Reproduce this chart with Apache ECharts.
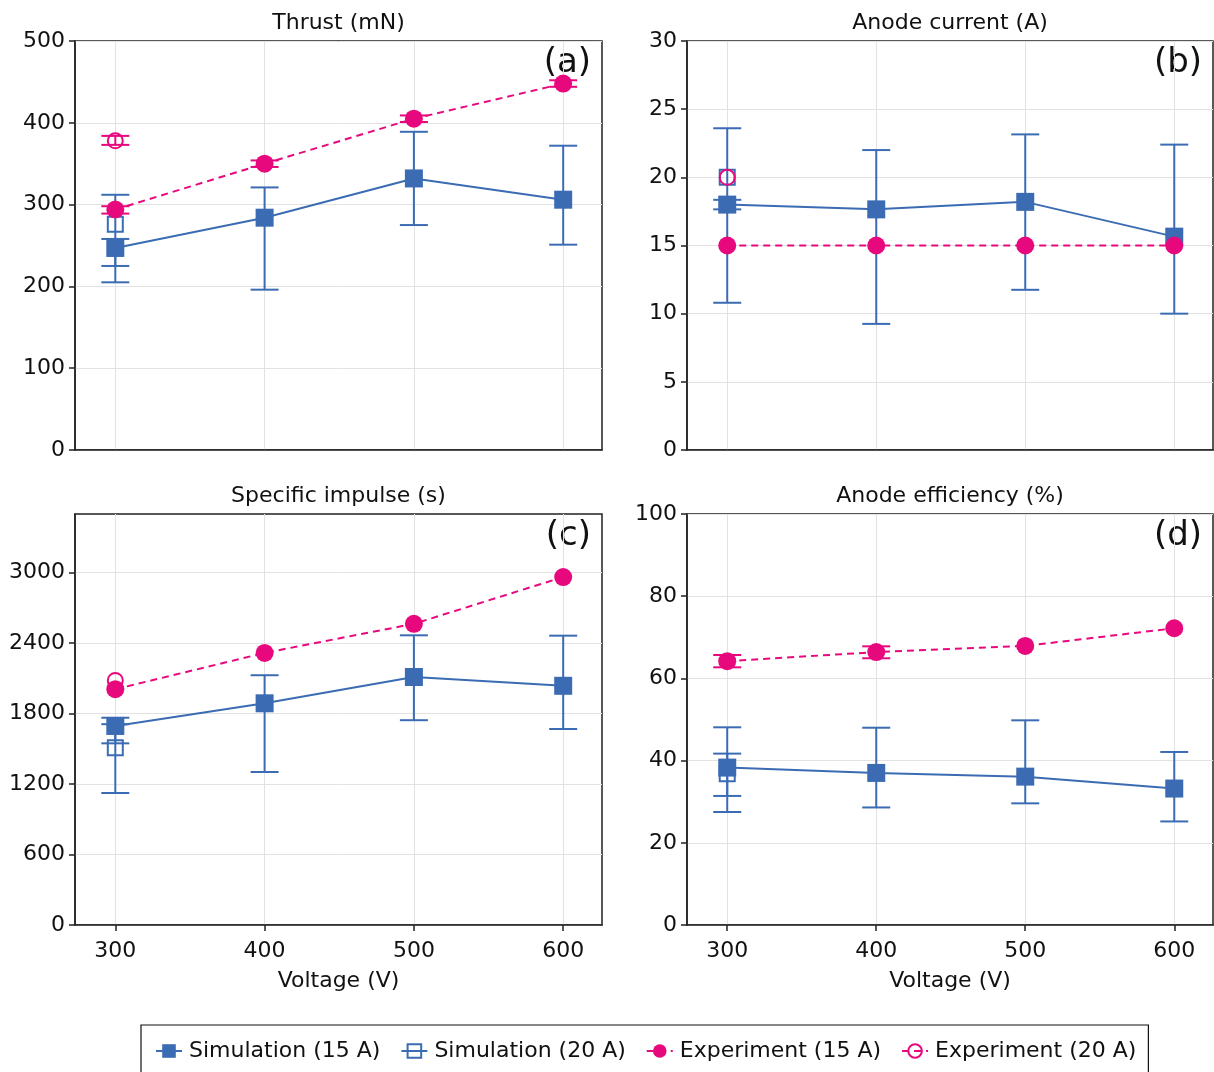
<!DOCTYPE html>
<html>
<head>
<meta charset="utf-8">
<script src="https://cdn.jsdelivr.net/npm/echarts@6/dist/echarts.min.js"></script>
<style>html,body{margin:0;padding:0;background:#fff}#c{width:1214px;height:1072px}</style>
</head>
<body>
<div id="c"></div>
<script>
// ---------- DATA ----------
const voltage = [300, 400, 500, 600];
const voltage20 = [300];
const xTicks = [300, 400, 500, 600];

// (a) Thrust (mN)
const sim15Thrust = [247, 284, 332, 306];
const sim15ThrustLo = [225, 196, 275, 251];
const sim15ThrustHi = [258, 321, 389, 372];
const sim20Thrust = [276];
const sim20ThrustLo = [205];
const sim20ThrustHi = [312];
const exp15Thrust = [294, 350, 405, 448];
const exp15ThrustLo = [289, 346, 401, 444];
const exp15ThrustHi = [298, 354, 409, 452];
const exp20Thrust = [378];
const exp20ThrustLo = [373];
const exp20ThrustHi = [384];

// (b) Anode current (A)
const sim15Current = [18.0, 17.65, 18.2, 15.65];
const sim15CurrentLo = [17.65, 9.25, 11.75, 10.0];
const sim15CurrentHi = [18.35, 22.0, 23.15, 22.4];
const sim20Current = [20.0];
const sim20CurrentLo = [10.8];
const sim20CurrentHi = [23.6];
const exp15Current = [15, 15, 15, 15];
const exp20Current = [20];

// (c) Specific impulse (s)
const sim15Isp = [1695, 1888, 2112, 2037];
const sim15IspLo = [1547, 1303, 1744, 1669];
const sim15IspHi = [1765, 2127, 2467, 2464];
const sim20Isp = [1510];
const sim20IspLo = [1124];
const sim20IspHi = [1710];
const exp15Isp = [2008, 2317, 2565, 2963];
const exp20Isp = [2083];

// (d) Anode efficiency (%)
const sim15Eff = [38.3, 37.0, 36.1, 33.2];
const sim15EffLo = [31.4, 28.6, 29.6, 25.2];
const sim15EffHi = [41.7, 48.0, 49.8, 42.1];
const sim20Eff = [36.8];
const sim20EffLo = [27.5];
const sim20EffHi = [48.1];
const exp15Eff = [64.2, 66.4, 67.9, 72.2];
const exp15EffLo = [62.7, 64.9, null, null];
const exp15EffHi = [65.7, 67.8, null, null];

const yTicksA = [0, 100, 200, 300, 400, 500];
const yTicksB = [0, 5, 10, 15, 20, 25, 30];
const yTicksC = [0, 600, 1200, 1800, 2400, 3000];
const yTicksD = [0, 20, 40, 60, 80, 100];

const titles = ['Thrust (mN)', 'Anode current (A)', 'Specific impulse (s)', 'Anode efficiency (%)'];
const panelTags = ['(a)', '(b)', '(c)', '(d)'];
const legendNames = ['Simulation (15 A)', 'Simulation (20 A)', 'Experiment (15 A)', 'Experiment (20 A)'];

// ---------- STYLE ----------
const BLUE = '#3B6CB3';
const PINK = '#E8087E';
const FONT = 'DejaVu Sans';
const FS = 22;
const grids = [
  {left: 75, top: 41, width: 527, height: 409},
  {left: 687, top: 41, width: 526, height: 409},
  {left: 75, top: 514, width: 527, height: 411},
  {left: 687, top: 514, width: 526, height: 411}
];
const yCfg = [
  {max: 500, interval: 100, ticks: yTicksA},
  {max: 30, interval: 5, ticks: yTicksB},
  {max: 3500, interval: 500, ticks: yTicksC},
  {max: 100, interval: 20, ticks: yTicksD}
];

function zip(xs, ys) { return xs.map((x, i) => [x, ys[i]]); }

function errSeries(idx, xs, lo, hi, color, z) {
  const data = [];
  xs.forEach((x, i) => { if (lo[i] != null && hi[i] != null) data.push([x, lo[i], hi[i]]); });
  return {
    type: 'custom', xAxisIndex: idx, yAxisIndex: idx, z: z, silent: true,
    encode: {x: 0, y: [1, 2]},
    data: data,
    renderItem: function (params, api) {
      const x = api.value(0), l = api.value(1), h = api.value(2);
      const pH = api.coord([x, h]), pL = api.coord([x, l]);
      const w = 14;
      const st = {stroke: color, lineWidth: 2};
      return {type: 'group', children: [
        {type: 'line', shape: {x1: pH[0], y1: pH[1], x2: pL[0], y2: pL[1]}, style: st},
        {type: 'line', shape: {x1: pH[0] - w, y1: pH[1], x2: pH[0] + w, y2: pH[1]}, style: st},
        {type: 'line', shape: {x1: pL[0] - w, y1: pL[1], x2: pL[0] + w, y2: pL[1]}, style: st}
      ]};
    }
  };
}

function sim15(idx, ys) {
  return {name: legendNames[0], type: 'line', xAxisIndex: idx, yAxisIndex: idx, z: 4,
    data: zip(voltage, ys), symbol: 'rect', symbolSize: 18, showSymbol: true,
    lineStyle: {color: BLUE, width: 2}, itemStyle: {color: BLUE}, emphasis: {disabled: true}};
}
function sim20(idx, ys) {
  return {name: legendNames[1], type: 'line', xAxisIndex: idx, yAxisIndex: idx, z: 3,
    data: zip(voltage20, ys), symbol: 'rect', symbolSize: 15, showSymbol: true,
    lineStyle: {color: BLUE, width: 2},
    itemStyle: {color: 'rgba(255,255,255,0)', borderColor: BLUE, borderWidth: 2}, emphasis: {disabled: true}};
}
function exp15(idx, ys) {
  return {name: legendNames[2], type: 'line', xAxisIndex: idx, yAxisIndex: idx, z: 5,
    data: zip(voltage, ys), symbol: 'circle', symbolSize: 18, showSymbol: true,
    lineStyle: {color: PINK, width: 2, type: [7, 5]}, itemStyle: {color: PINK}, emphasis: {disabled: true}};
}
function exp20(idx, ys) {
  return {name: legendNames[3], type: 'line', xAxisIndex: idx, yAxisIndex: idx, z: 6,
    data: zip(voltage20, ys), symbol: 'circle', symbolSize: 15, showSymbol: true,
    lineStyle: {color: PINK, width: 2, type: [7, 5]},
    itemStyle: {color: 'rgba(255,255,255,0)', borderColor: PINK, borderWidth: 2}, emphasis: {disabled: true}};
}

const series = [
  // (a)
  errSeries(0, voltage, sim15ThrustLo, sim15ThrustHi, BLUE, 2),
  errSeries(0, voltage20, sim20ThrustLo, sim20ThrustHi, BLUE, 2),
  errSeries(0, voltage, exp15ThrustLo, exp15ThrustHi, PINK, 2),
  errSeries(0, voltage20, exp20ThrustLo, exp20ThrustHi, PINK, 2),
  sim15(0, sim15Thrust), sim20(0, sim20Thrust), exp15(0, exp15Thrust), exp20(0, exp20Thrust),
  // (b)
  errSeries(1, voltage, sim15CurrentLo, sim15CurrentHi, BLUE, 2),
  errSeries(1, voltage20, sim20CurrentLo, sim20CurrentHi, BLUE, 2),
  sim15(1, sim15Current), sim20(1, sim20Current), exp15(1, exp15Current), exp20(1, exp20Current),
  // (c)
  errSeries(2, voltage, sim15IspLo, sim15IspHi, BLUE, 2),
  errSeries(2, voltage20, sim20IspLo, sim20IspHi, BLUE, 2),
  sim15(2, sim15Isp), sim20(2, sim20Isp), exp15(2, exp15Isp), exp20(2, exp20Isp),
  // (d)
  errSeries(3, voltage, sim15EffLo, sim15EffHi, BLUE, 2),
  errSeries(3, voltage20, sim20EffLo, sim20EffHi, BLUE, 2),
  errSeries(3, voltage, exp15EffLo, exp15EffHi, PINK, 2),
  sim15(3, sim15Eff), sim20(3, sim20Eff), exp15(3, exp15Eff)
];

const xAxis = grids.map((g, i) => {
  const bottom = i >= 2;
  return {
    type: 'value', gridIndex: i, min: 273, max: 626,
    axisLine: {show: true, onZero: false, lineStyle: {color: '#222', width: 1.5}},
    axisTick: {show: bottom, length: 6, lineStyle: {color: '#222', width: 1.5}, customValues: xTicks},
    axisLabel: {show: bottom, customValues: xTicks, fontFamily: FONT, fontSize: FS, color: '#111', margin: 15,
      formatter: v => String(v)},
    splitLine: {show: true, lineStyle: {color: '#e2e2e2', width: 1}},
    name: bottom ? 'Voltage (V)' : '', nameLocation: 'middle', nameGap: 45,
    nameTextStyle: {fontFamily: FONT, fontSize: FS, color: '#111'}
  };
});
const yAxis = grids.map((g, i) => ({
  type: 'value', gridIndex: i, min: 0, max: yCfg[i].max, interval: yCfg[i].interval,
  axisLine: {show: true, lineStyle: {color: '#222', width: 1.5}},
  axisTick: {show: true, length: 6, lineStyle: {color: '#222', width: 1.5}, customValues: yCfg[i].ticks},
  axisLabel: {customValues: yCfg[i].ticks, fontFamily: FONT, fontSize: FS, color: '#111', margin: 10,
    formatter: v => String(v)},
  splitLine: {show: true, lineStyle: {color: '#e2e2e2', width: 1}}
}));

const graphic = [];
grids.forEach((g, i) => {
  graphic.push({type: 'text', x: g.left + g.width / 2, y: g.top - 18, silent: true,
    style: {text: titles[i], font: FS + 'px "' + FONT + '"', fill: '#111', textAlign: 'center', textVerticalAlign: 'middle'}});
  graphic.push({type: 'text', x: g.left + g.width - 11, y: g.top + 22, silent: true,
    style: {text: panelTags[i], font: '34px "' + FONT + '"', fill: '#111', textAlign: 'right', textVerticalAlign: 'middle'}});
});

const option = {
  animation: false,
  backgroundColor: '#fff',
  grid: grids.map(g => Object.assign({show: true, borderColor: '#222', borderWidth: 1.5, backgroundColor: 'rgba(0,0,0,0)', containLabel: false}, g)),
  xAxis: xAxis,
  yAxis: yAxis,
  legend: {
    data: legendNames, left: 141, top: 1025, orient: 'horizontal',
    itemWidth: 26, itemHeight: 17, itemGap: 20,
    padding: [15, 12, 13, 14], borderColor: '#111', borderWidth: 1.2,
    textStyle: {fontFamily: FONT, fontSize: FS, color: '#111', padding: [0, 0, 0, 2]},
    selectedMode: false
  },
  graphic: graphic,
  series: series
};

const chart = echarts.init(document.getElementById('c'), null, {renderer: 'canvas'});
chart.setOption(option);
</script>
</body>
</html>
